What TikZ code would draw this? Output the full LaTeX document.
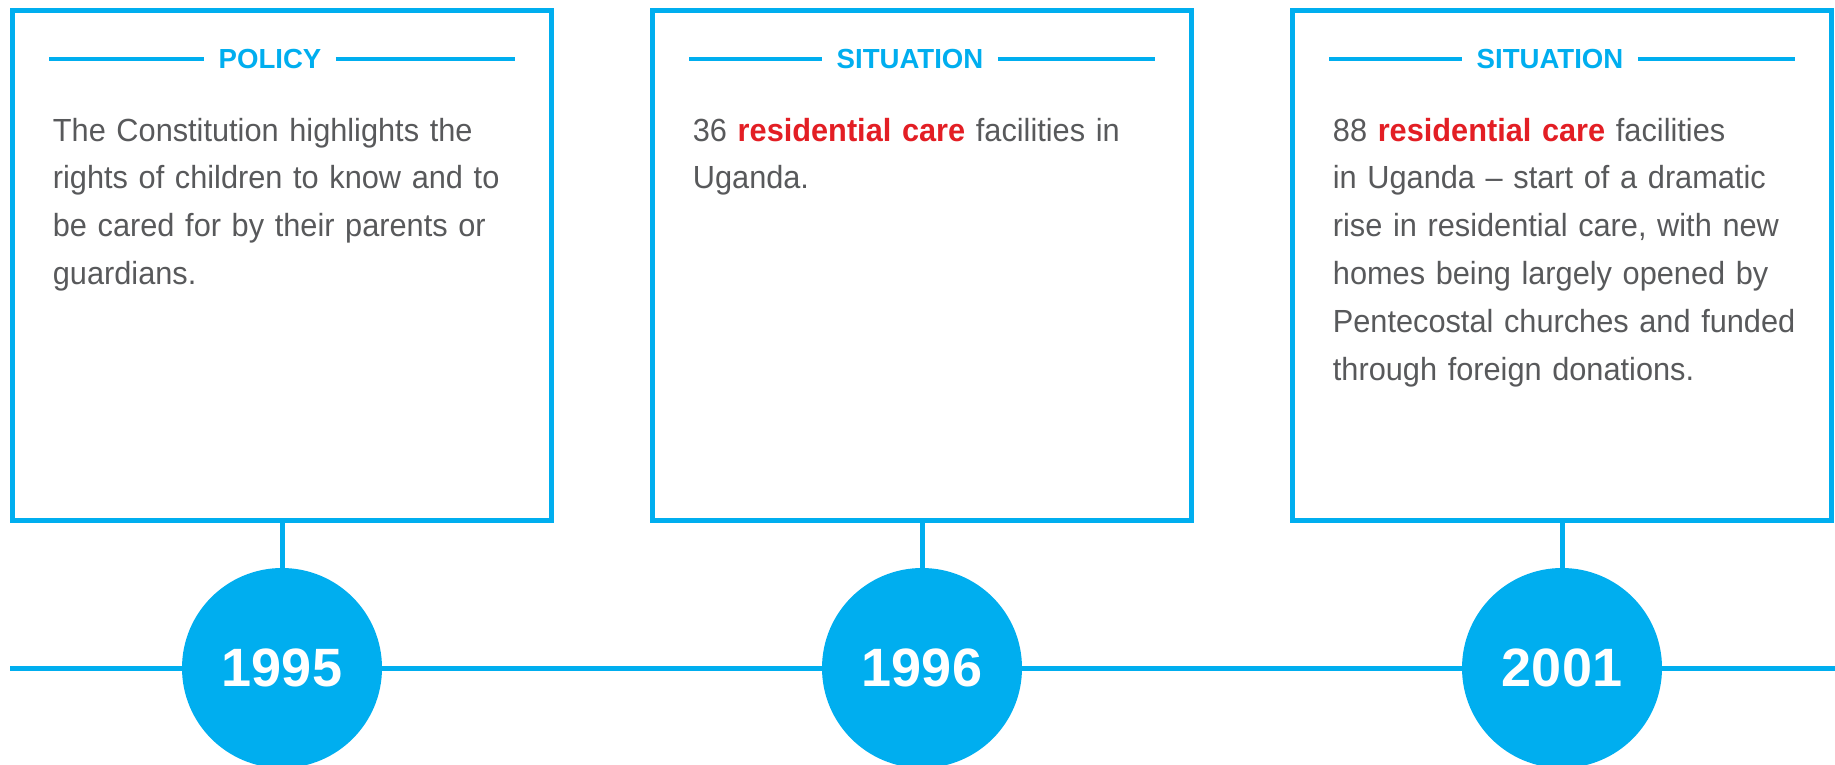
\documentclass[tikz,border=0pt]{standalone}
\usepackage{fontspec}
\setmainfont{Liberation Sans}
\newfontfamily\bodyfont{Liberation Sans}[FakeStretch=0.96,Ligatures=TeX]
\usetikzlibrary{calc}
\definecolor{ucyan}{HTML}{00AEEF}
\definecolor{ugray}{HTML}{58595B}
\definecolor{ured}{HTML}{E31E24}
\newcommand{\rc}{\textcolor{ured}{\bfseries residential care}}
\begin{document}
\begin{tikzpicture}[x=0.5pt,y=-0.5pt,
  cardbox/.style={draw=ucyan, line width=2.5pt, minimum width=269.5pt, minimum height=254.5pt, inner sep=0pt},
  yearnode/.style={circle, fill=ucyan, minimum size=100pt, inner sep=0pt, text=white, font=\fontsize{27}{30}\selectfont\bfseries},
  heading/.style={inner sep=0pt, text=ucyan, font=\fontsize{13.8}{16}\selectfont\bfseries},
  headrule/.style={draw=ucyan, line width=2pt},
  bodytext/.style={anchor=base west, inner sep=0pt, text width=250pt, align=left, text=ugray, font=\bodyfont\fontsize{16}{23.9}\selectfont},
  link/.style={draw=ucyan, line width=2.5pt}
]
\useasboundingbox (0,0) rectangle (1835,765);
\fill[white] (0,0) rectangle (1835,765);

% boxes
\node[cardbox] (b1) at (282,265.5) {};
\node[cardbox] (b2) at (922,265.5) {};
\node[cardbox] (b3) at (1562,265.5) {};

% headings
\node[heading] (h1) at (270,59.5) {POLICY};
\node[heading] (h2) at (910,59.5) {SITUATION};
\node[heading] (h3) at (1550,59.5) {SITUATION};
\foreach \b/\h in {b1/h1,b2/h2,b3/h3}{
  \draw[headrule] ($(\b.west |- \h)+(39,0)$) -- ([xshift=-7pt]\h.west);
  \draw[headrule] ([xshift=7pt]\h.east) -- ($(\b.east |- \h)+(-39,0)$);
}

% body texts
\node[bodytext] (t1) at (52.5,141) {The Constitution highlights the\\rights of children to know and to\\be cared for by their parents or\\guardians.};
\node[bodytext] (t2) at (692.5,141) {36 \rc{} facilities in\\Uganda.};
\node[bodytext] (t3) at (1332.5,141) {88 \rc{} facilities\\in Uganda – start of a dramatic\\rise in residential care, with new\\homes being largely opened by\\Pentecostal churches and funded\\through foreign donations.};

% year circles
\node[yearnode] (y1) at (282,668) {1995};
\node[yearnode] (y2) at (922,668) {1996};
\node[yearnode] (y3) at (1562,668) {2001};

% timeline
\coordinate (tlstart) at (10,668);
\coordinate (tlend) at (1835,668);
\draw[link] (tlstart) -- (y1.west);
\draw[link] (y1.east) -- (y2.west);
\draw[link] (y2.east) -- (y3.west);
\draw[link] (y3.east) -- (tlend);

% connectors
\draw[link] (b1.south) -- (y1.north);
\draw[link] (b2.south) -- (y2.north);
\draw[link] (b3.south) -- (y3.north);
\end{tikzpicture}
\end{document}
